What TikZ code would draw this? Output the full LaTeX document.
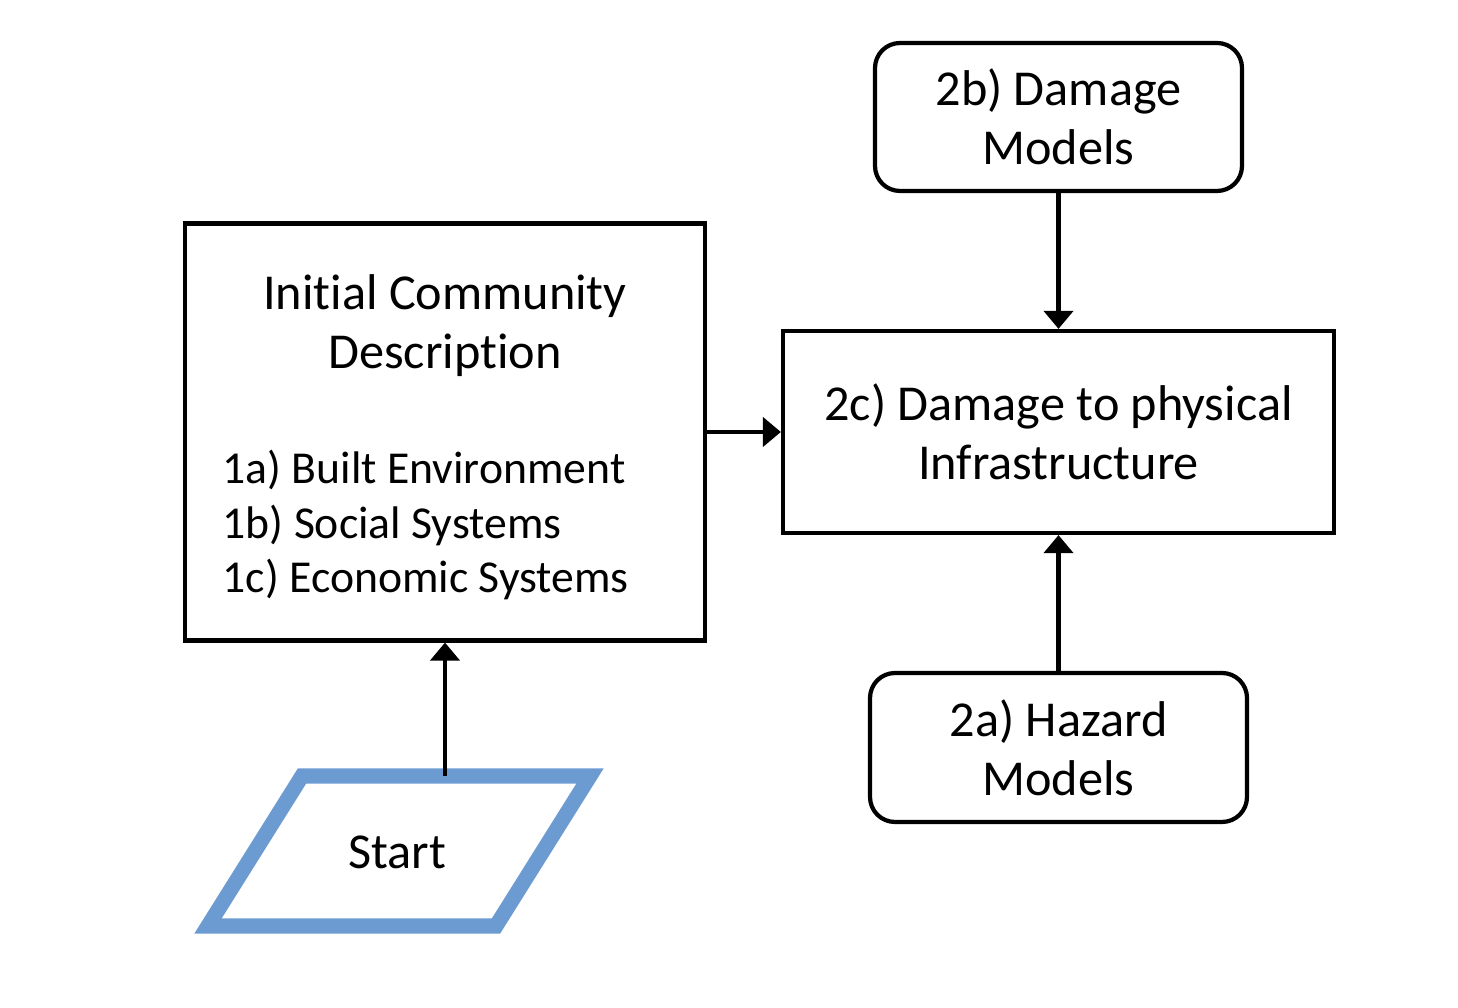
\documentclass[tikz,border=0pt]{standalone}
\usepackage{fontspec}
\setmainfont{Carlito}[Ligatures=NoCommon]
\usetikzlibrary{arrows.meta}
\usetikzlibrary{positioning}
\definecolor{startblue}{RGB}{108,155,210}

\begin{document}
\begin{tikzpicture}[>={Triangle[width=2.9mm,length=1.8mm]},
    font=\fontsize{14.3}{16.8}\selectfont,
    plainbox/.style={draw,line width=1.2pt,inner sep=0pt,align=center},
    modelbox/.style={plainbox,rounded corners=2.5mm},
    link/.style={->,line width=1.2pt}]
  \path[use as bounding box] (0,0) rectangle (14.58,10.08);

  % community description
  \node[plainbox,minimum width=5.2cm,minimum height=4.17cm] (init) at (4.45,5.76) {};
  \node[inner sep=0pt,align=center] (title) at (4.45,6.82) {Initial Community\\Description};
  \node[inner sep=0pt,align=left,anchor=west,font=\fontsize{13}{15.4}\selectfont] (systems) at (2.22,4.83)
    {1a) Built Environment\\1b) Social Systems\\1c) Economic Systems};

  % start
  \draw[startblue,line width=4.3pt] (2.08,0.82) -- (3.02,2.32) -- (5.90,2.32) -- (4.96,0.82) -- cycle;
  \node (start) at (3.97,1.56) {Start};
  \coordinate (startTop) at (init.south |- 0,2.32);

  % damage
  \node[plainbox,minimum width=5.51cm,minimum height=2.02cm] (damage) at (10.585,5.76)
    {2c) Damage to physical\\Infrastructure};
  \node[modelbox,minimum width=3.67cm,minimum height=1.48cm] (damagemodels) at (10.585,8.91)
    {2b) Damage\\Models};
  \node[modelbox,minimum width=3.77cm,minimum height=1.49cm] (hazard) at (10.585,2.605)
    {2a) Hazard\\Models};

  \draw[link] (startTop) -- (init.south);
  \draw[link] (init.east) -- (damage.west);
  \draw[link] (damagemodels.south) -- (damage.north);
  \draw[link] (hazard.north) -- (damage.south);
\end{tikzpicture}
\end{document}
